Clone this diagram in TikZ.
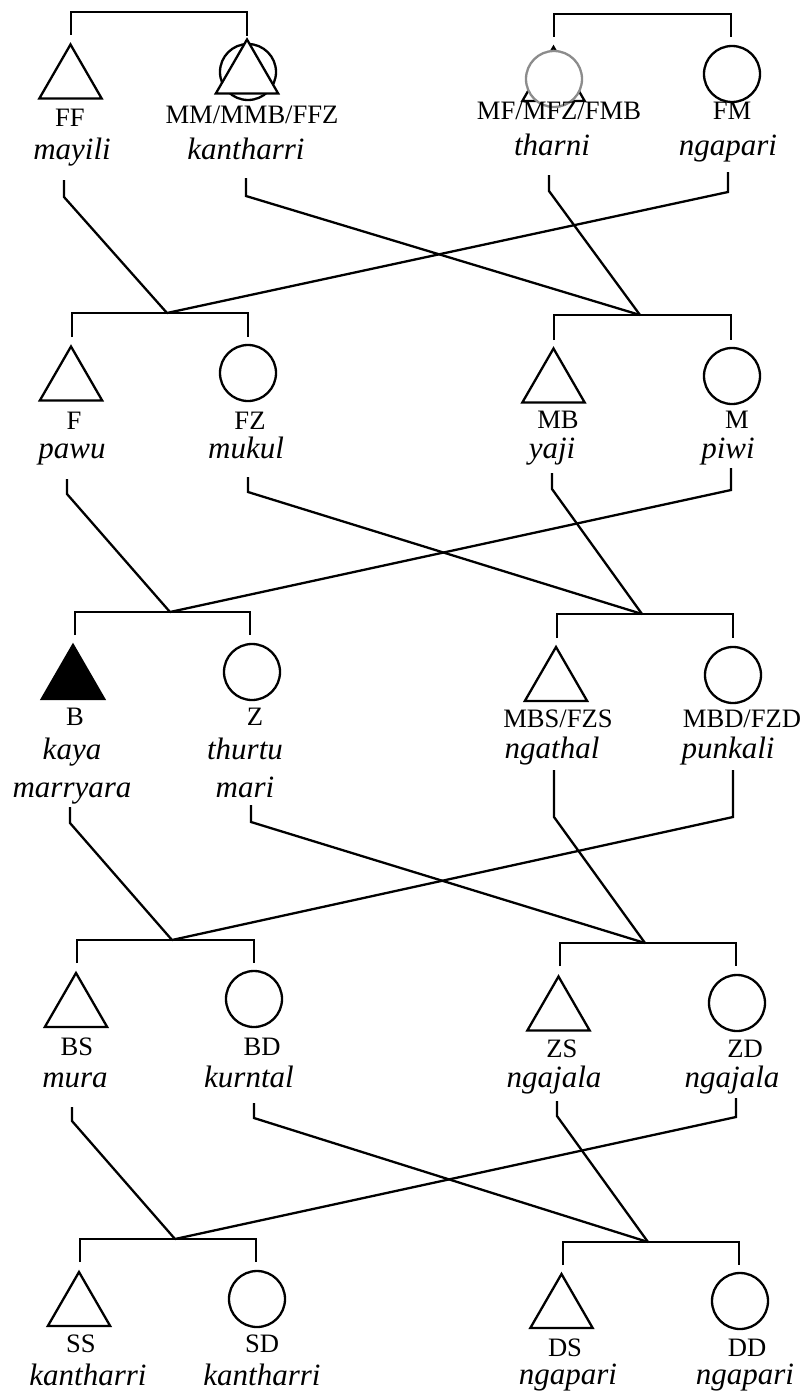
\documentclass[tikz,border=0pt]{standalone}
\usepackage{fontspec}
\setmainfont{Liberation Serif}
\usetikzlibrary{shapes.geometric}
\tikzset{
  ln/.style={line width=2.3pt},
  male/.style={regular polygon, regular polygon sides=3, draw, line width=2.3pt, minimum size=72pt, inner sep=0pt, outer sep=0pt, fill=white},
  female/.style={circle, draw, line width=2.3pt, minimum size=56pt, inner sep=0pt, outer sep=0pt, fill=white},
  kin/.style={anchor=base, inner sep=0pt, font=\fontsize{26.6}{28}\selectfont},
  term/.style={anchor=base, inner sep=0pt, font=\fontsize{31}{33}\selectfont\itshape},
}
\begin{document}
\begin{tikzpicture}[x=1pt,y=-1pt]
\useasboundingbox (0,0) rectangle (806,1394);

% ---------- Row 1 ----------
\node[male] (FF) at (70.5,80.5) {};
\node[female] (MMc) at (248,72) {};
\node[male] (MM) at (247,75.5) {};
\node[male] (MFt) at (553.5,83) {};
\node[female, draw=gray!90] (MF) at (554,79) {};
\node[female] (FM) at (732,74) {};
\node[kin] (FFk) at (70,127) {FF};
\node[term] (FFt) at (72,160) {mayili};
\node[kin] (MMk) at (252,124) {MM/MMB/FFZ};
\node[term] (MMt) at (246,160) {kantharri};
\node[kin] (MFk) at (559,120) {MF/MFZ/FMB};
\node[term] (MFtt) at (552,155) {tharni};
\node[kin] (FMk) at (732,120) {FM};
\node[term] (FMt) at (728,155) {ngapari};
\draw[ln] (71,35) -- (71,12) -- (247,12) -- (247,36);
\draw[ln] (554,37) -- (554,14) -- (731,14) -- (731,37);

% ---------- Row 2 ----------
\node[male] (F) at (71,382.5) {};
\node[female] (FZ) at (248,373) {};
\node[male] (MB) at (553.5,384.5) {};
\node[female] (M) at (732,376) {};
\node[kin] (Fk) at (74,429) {F};
\node[term] (Ft) at (72,458) {pawu};
\node[kin] (FZk) at (250,429) {FZ};
\node[term] (FZt) at (246,458) {mukul};
\node[kin] (MBk) at (558,428) {MB};
\node[term] (MBt) at (552,458) {yaji};
\node[kin] (Mk) at (737,428) {M};
\node[term] (Mt) at (728,458) {piwi};
\coordinate (j2L) at (167,313); \coordinate (j2R) at (640,315);
\draw[ln] (72,337) -- (72,313) -- (248,313) -- (248,337);
\draw[ln] (554,340) -- (554,315) -- (731,315) -- (731,340);

% ---------- Row 3 ----------
\node[male, fill=black] (B) at (73,681) {};
\node[female] (Z) at (252,672) {};
\node[male] (MBS) at (556,683) {};
\node[female] (MBD) at (733,675) {};
\node[kin] (Bk) at (75,725) {B};
\node[term] (Bt1) at (72,759) {kaya};
\node[term] (Bt2) at (72,797) {marryara};
\node[kin] (Zk) at (255,725) {Z};
\node[term] (Zt1) at (245,759) {thurtu};
\node[term] (Zt2) at (245,797) {mari};
\node[kin] (MBSk) at (558,727) {MBS/FZS};
\node[term] (MBSt) at (552,758) {ngathal};
\node[kin] (MBDk) at (742,727) {MBD/FZD};
\node[term] (MBDt) at (728,758) {punkali};
\coordinate (j3L) at (170,612); \coordinate (j3R) at (642,614);
\draw[ln] (75,635) -- (75,612) -- (250,612) -- (250,635);
\draw[ln] (557,638) -- (557,614) -- (733,614) -- (733,638);

% ---------- Row 4 ----------
\node[male] (BS) at (76,1009) {};
\node[female] (BD) at (254,999) {};
\node[male] (ZS) at (558.5,1012.5) {};
\node[female] (ZD) at (737,1003) {};
\node[kin] (BSk) at (77,1055) {BS};
\node[term] (BSt) at (75,1087) {mura};
\node[kin] (BDk) at (262,1055) {BD};
\node[term] (BDt) at (249,1087) {kurntal};
\node[kin] (ZSk) at (562,1057) {ZS};
\node[term] (ZSt) at (554,1087) {ngajala};
\node[kin] (ZDk) at (745,1057) {ZD};
\node[term] (ZDt) at (732,1087) {ngajala};
\coordinate (j4L) at (172,940); \coordinate (j4R) at (645,943);
\draw[ln] (77,963) -- (77,940) -- (254,940) -- (254,963);
\draw[ln] (560,966) -- (560,943) -- (736,943) -- (736,966);

% ---------- Row 5 ----------
\node[male] (SS) at (79,1308) {};
\node[female] (SD) at (257,1299) {};
\node[male] (DS) at (561.5,1310) {};
\node[female] (DD) at (740,1301) {};
\node[kin] (SSk) at (81,1352) {SS};
\node[term] (SSt) at (88,1385) {kantharri};
\node[kin] (SDk) at (262,1352) {SD};
\node[term] (SDt) at (262,1385) {kantharri};
\node[kin] (DSk) at (565,1356) {DS};
\node[term] (DSt) at (568,1384) {ngapari};
\node[kin] (DDk) at (747,1356) {DD};
\node[term] (DDt) at (745,1384) {ngapari};
\coordinate (j5L) at (175,1239); \coordinate (j5R) at (648,1242);
\draw[ln] (80,1262) -- (80,1239) -- (256,1239) -- (256,1262);
\draw[ln] (563,1265) -- (563,1242) -- (739,1242) -- (739,1265);

% ---------- descent lines ----------
\draw[ln] (64,180) -- (64,197) -- (j2L);
\draw[ln] (728,172) -- (728,192) -- (j2L);
\draw[ln] (246,178) -- (246,196) -- (j2R);
\draw[ln] (549,175) -- (549,191) -- (j2R);

\draw[ln] (67,479) -- (67,494) -- (j3L);
\draw[ln] (731,468) -- (731,490) -- (j3L);
\draw[ln] (248,477) -- (248,492) -- (j3R);
\draw[ln] (552,473) -- (552,489) -- (j3R);

\draw[ln] (70,807) -- (70,823) -- (j4L);
\draw[ln] (733,770) -- (733,817) -- (j4L);
\draw[ln] (251,805) -- (251,822) -- (j4R);
\draw[ln] (554,770) -- (554,817) -- (j4R);

\draw[ln] (72,1107) -- (72,1121) -- (j5L);
\draw[ln] (736,1098) -- (736,1117) -- (j5L);
\draw[ln] (254,1103) -- (254,1118) -- (j5R);
\draw[ln] (557,1101) -- (557,1116) -- (j5R);
\end{tikzpicture}
\end{document}
